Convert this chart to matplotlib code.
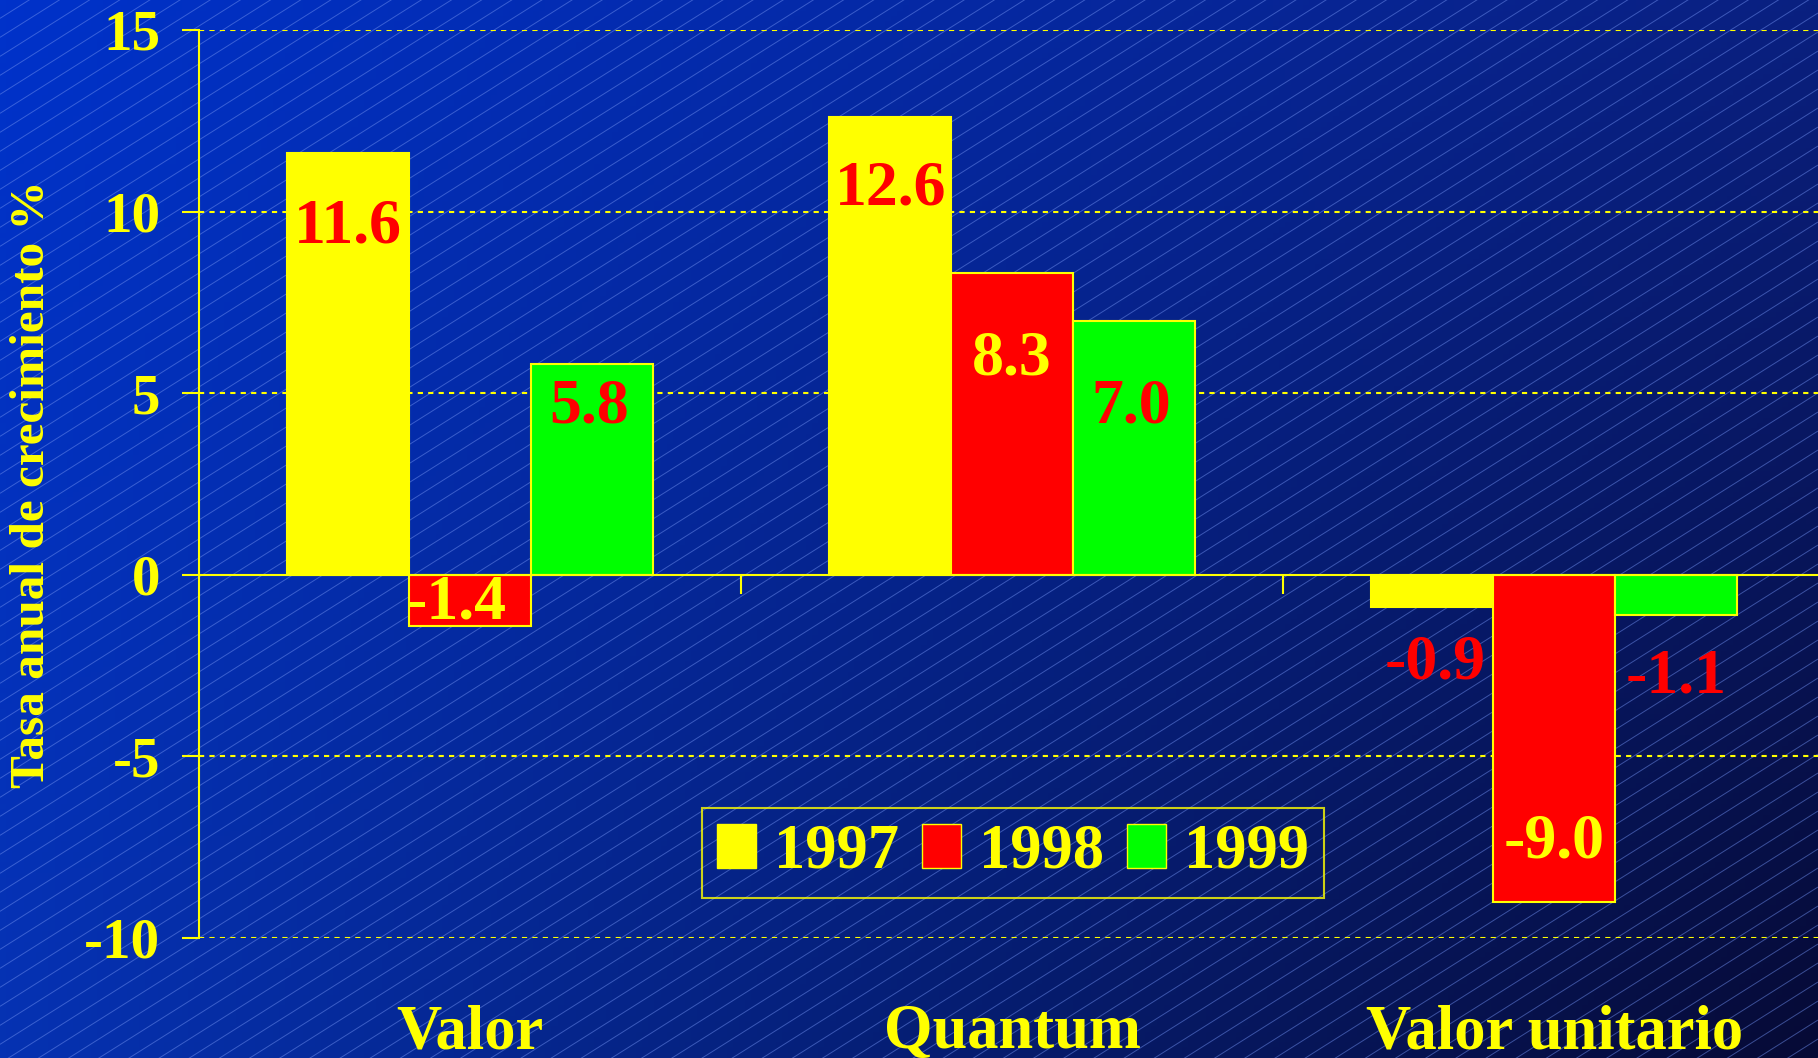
import matplotlib
matplotlib.use("Agg")
import matplotlib.pyplot as plt
from matplotlib.collections import LineCollection
from matplotlib.patches import Patch
from matplotlib.colors import to_rgb
from matplotlib.transforms import blended_transform_factory
import numpy as np

categories = ["Valor", "Quantum", "Valor unitario"]
years = ["1997", "1998", "1999"]
v1997 = [11.6, 12.6, -0.9]
v1998 = [-1.4, 8.3, -9.0]
v1999 = [5.8, 7.0, -1.1]

bar_colors = ["#FFFF00", "#FF0000", "#00FF00"]
# text colour and offset of each value label (per year, per category)
label_colors = [["#FF0000", "#FF0000", "#FF0000"],
                ["#FFFF00", "#FFFF00", "#FFFF00"],
                ["#FF0000", "#FF0000", "#FF0000"]]
label_dy = [[-2.05, -2.0, -1.55],
            [0.62, -2.38, 1.62],
            [-1.2, -2.38, -1.72]]
label_dx = [[0, 0, 0.005],
            [-0.026, 0, 0],
            [-0.005, -0.005, 0]]

YEL = "#FFFF00"
plt.rcParams['font.family'] = ['Liberation Serif', 'DejaVu Serif']
plt.rcParams['font.weight'] = 'bold'

W, H = 1818, 1058
fig = plt.figure(figsize=(W / 100, H / 100), dpi=100)

# background: corner-blended gradient + thin diagonal lines
bg = fig.add_axes([0, 0, 1, 1])
bg.set_xlim(0, W)
bg.set_ylim(0, H)
bg.axis('off')
tl, tr_, bl, br = [np.array(to_rgb(c)) for c in ["#0032CA", "#0A2080", "#0632B2", "#060A35"]]
u = np.linspace(0, 1, 300)[None, :, None]
v = np.linspace(0, 1, 200)[:, None, None]
img = (1 - v) * ((1 - u) * tl + u * tr_) + v * ((1 - u) * bl + u * br)
bg.imshow(img, extent=[0, W, 0, H], origin='upper', aspect='auto')
slope = 0.63
step = 19
segs = [[(0, c), (W, c + slope * W)] for c in np.arange(-slope * W, H, step)]
bg.add_collection(LineCollection(segs, colors="#7090F0", linewidths=0.7, alpha=0.5))

ax = fig.add_axes([199 / W, 1 - 938 / H, 1.004 - 199 / W, (938 - 30) / H])
ax.patch.set_alpha(0)

x = np.arange(len(categories))
width = 0.225
series = [v1997, v1998, v1999]
for i, vals in enumerate(series):
    pos = x + (i - 1) * width
    edge = bar_colors[i] if i == 0 else YEL
    ax.bar(pos, vals, width, color=bar_colors[i], edgecolor=edge, linewidth=1.5,
           zorder=3, label=years[i])
    for j, v in enumerate(vals):
        ax.text(pos[j] + label_dx[i][j], v + label_dy[i][j], f"{v:.1f}",
                ha='center', va='center', fontsize=46, color=label_colors[i][j],
                fontweight='bold', zorder=5)

ax.set_xlim(-0.5, 2.5)
ax.set_ylim(-10, 15)
ax.set_yticks([-10, -5, 0, 5, 10, 15])
ax.set_yticklabels(["-10", "-5", "0", "5", "10", "15"])
for yv in [-10, -5, 5, 10, 15]:
    ax.axhline(yv, color=YEL, lw=1.5, dashes=(2.5, 2.5), zorder=1)

for s in ['top', 'right']:
    ax.spines[s].set_visible(False)
ax.spines['left'].set_color(YEL)
ax.spines['left'].set_linewidth(1.5)
ax.spines['bottom'].set_position(('data', 0))
ax.spines['bottom'].set_color(YEL)
ax.spines['bottom'].set_linewidth(1.5)
ax.spines['bottom'].set_zorder(4)
ax.set_xticks([0.5, 1.5])
ax.set_xticklabels([])
ax.tick_params(axis='x', direction='out', length=14, width=1.5, color=YEL)
ax.tick_params(axis='y', direction='out', length=12, width=1.5, color=YEL,
               labelcolor=YEL, labelsize=41, pad=16)
for lbl in ax.get_yticklabels():
    lbl.set_fontweight('bold')

trb = blended_transform_factory(ax.transData, ax.transAxes)
for j, c in enumerate(categories):
    ax.text(x[j], -0.105, c, transform=trb, ha='center', va='center',
            fontsize=45, color=YEL, fontweight='bold')

fig.text(32 / W, 1 - 484 / H, "Tasa anual de crecimiento %", rotation=90,
         ha='center', va='center', fontsize=35.5, color=YEL, fontweight='bold')

handles = [Patch(facecolor=bar_colors[i], edgecolor=bar_colors[i] if i == 0 else YEL,
                 label=years[i]) for i in range(3)]
leg = ax.legend(handles=handles, ncol=3, loc='center',
                bbox_to_anchor=((1013 - 199) / (W * 1.004 - 199), (938 - 853) / (938 - 30)),
                fontsize=45, frameon=True, fancybox=False, handlelength=0.62,
                handleheight=0.7, handletextpad=0.28, columnspacing=0.38,
                borderpad=0.25, borderaxespad=0)
leg.get_frame().set_facecolor('none')
leg.get_frame().set_edgecolor(YEL)
leg.get_frame().set_linewidth(1.5)
for tx in leg.get_texts():
    tx.set_color(YEL)
    tx.set_fontweight('bold')
leg.set_zorder(6)

fig.savefig("out.png", dpi=100)
